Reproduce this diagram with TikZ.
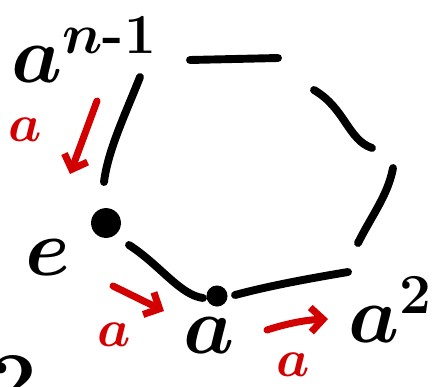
\RequirePackage{fix-cm}
\documentclass[tikz,border=0pt]{standalone}
\usepackage{amsmath}
\usepackage{tikz}
\usetikzlibrary{arrows.meta}
\definecolor{pen_red}{RGB}{210, 0, 0}

\begin{document}
\begin{tikzpicture}[
    x=0.02cm, y=-0.02cm,
    stroke/.style={line width=4.5pt, line cap=round, black},
    redarr/.style={line width=4pt, line cap=round, pen_red,
                   -{Straight Barb[length=7pt, width=14pt, line width=4pt]}},
    dot/.style={circle, fill=black, inner sep=0pt, minimum size=#1},
    lbl/.style={font=\fontsize{46}{46}\selectfont\boldmath, inner sep=0pt},
    rlbl/.style={font=\fontsize{30}{30}\selectfont\boldmath, text=pen_red, inner sep=0pt},
]
\useasboundingbox (0,0) rectangle (438,386);

% vertices
\node[dot=17pt] (e) at (106,223) {};
\node[dot=12pt] (a) at (217,296) {};

% labels
\node[lbl] (lan) at (84,50) {$a^{n\textbf{-}1}$};
\node[lbl] (le)  at (48,258) {$e$};
\node[lbl] (la)  at (209,336) {$a$};
\node[lbl] (la2) at (390,310) {$a^{2}$};
\node[lbl] (cut) at (14,382) {$2$};

% red labels
\node[rlbl] (r1) at (25,130) {$a$};
\node[rlbl] (r2) at (114,335) {$a$};
\node[rlbl] (r3) at (293,365) {$a$};

% edges of the cycle
\draw[stroke] (140,77) .. controls (125,115) and (108,150) .. (104,182);
\draw[stroke] (190,60) -- (278,58);
\draw[stroke] (314,90) .. controls (345,108) and (348,140) .. (372,148);
\draw[stroke] (393,168) .. controls (388,195) and (372,215) .. (358,243);
\draw[stroke] (348,272) .. controls (300,280) and (265,287) .. (235,295);
\draw[stroke] (129,245) .. controls (160,265) and (180,295) .. (203,298);

% multiplication by a
\coordinate (s1) at (97,101);
\coordinate (t1) at (70,174);
\coordinate (s2) at (113,286);
\coordinate (t2) at (164,311);
\coordinate (s3) at (267,330);
\coordinate (t3) at (328,319);
\draw[redarr] (s1) -- (t1);
\draw[redarr] (s2) -- (t2);
\draw[redarr] (s3) .. controls (285,324) and (305,320) .. (t3);
\end{tikzpicture}
\end{document}
